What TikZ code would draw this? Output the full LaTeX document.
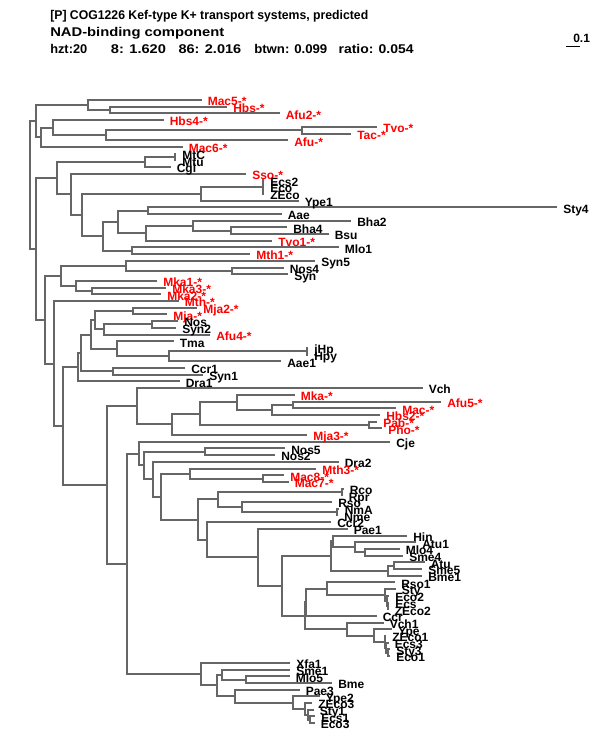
\documentclass[tikz,border=0pt]{standalone}
\usepackage{fontspec}
\setmainfont{Liberation Sans}
\usepackage{graphicx}
\usetikzlibrary{calc}
\definecolor{brc}{RGB}{102,102,102}
\definecolor{redc}{RGB}{255,0,0}
\pgfdeclarelayer{bg}
\pgfsetlayers{bg,main}
\newcommand{\Lf}[5]{%
 \coordinate (#1) at (#3,{100+6.7*(#2-1)});
 \node[lab,#5] (t#1) at ({#3+6},{100+6.7*(#2-1)+5.8}) {#4};}
\newcommand{\In}[4]{%
 \path let \p1=(#3), \p2=(#4) in coordinate (#1) at ({#2*0.75pt},{(\y1+\y2)/2});
 \begin{pgfonlayer}{bg}\draw[br] (#3) -| (#1) |- (#4);\end{pgfonlayer}}
\begin{document}
\begin{tikzpicture}[x=0.75pt,y=-0.75pt,
  br/.style={draw=brc,line width=1.5pt},
  lab/.style={font=\fontsize{9}{10}\selectfont\bfseries,anchor=base west,inner sep=0pt},
  redlab/.style={text=redc},
  blacklab/.style={text=black},
  hdr/.style={font=\fontsize{9.5}{11}\selectfont\bfseries,anchor=base west,inner sep=0pt}]
\begin{pgfonlayer}{bg}\fill[white] (0,0) rectangle (600,750);\end{pgfonlayer}
\useasboundingbox (0,0) rectangle (600,750);
% header
\node[hdr] (h1) at (50,19) {\resizebox{238.5pt}{\height}{[P] COG1226 Kef-type K+ transport systems, predicted}};
\node[hdr] (h2) at (50,36) {\resizebox{130.5pt}{\height}{NAD-binding component}};
\node[hdr] (h3a) at (50,53) {\resizebox{27.75pt}{\height}{hzt:20}};
\node[hdr] (h3b) at (110.7,53) {\resizebox{41.25pt}{\height}{8: 1.620}};
\node[hdr] (h3c) at (178.3,53) {\resizebox{47pt}{\height}{86: 2.016}};
\node[hdr] (h3d) at (254,53) {\resizebox{54.75pt}{\height}{btwn: 0.099}};
\node[hdr] (h3e) at (338.3,53) {\resizebox{56.25pt}{\height}{ratio: 0.054}};
% scale bar
\coordinate (sb1) at (566,46.5);
\coordinate (sb2) at (580,46.5);
\draw[line width=0.8pt] (sb1) -- (sb2);
\node[lab] (sbl) at (573,42) {0.1};
% leaves
\Lf{L1}{1}{201.5}{Mac5-*}{redlab}
\Lf{L2}{2}{227}{Hbs-*}{redlab}
\Lf{L3}{3}{279.5}{Afu2-*}{redlab}
\Lf{L4}{4}{163.5}{Hbs4-*}{redlab}
\Lf{L5}{5}{377}{Tvo-*}{redlab}
\Lf{L6}{6}{351}{Tac-*}{redlab}
\Lf{L7}{7}{288}{Afu-*}{redlab}
\Lf{L8}{8}{182.5}{Mac6-*}{redlab}
\Lf{L9}{9}{176}{MtC}{blacklab}
\Lf{L10}{10}{176}{Mtu}{blacklab}
\Lf{L11}{11}{170.5}{Cgl}{blacklab}
\Lf{L12}{12}{246}{Sso-*}{redlab}
\Lf{L13}{13}{264}{Ecs2}{blacklab}
\Lf{L14}{14}{264}{Eco}{blacklab}
\Lf{L15}{15}{264}{ZEco}{blacklab}
\Lf{L16}{16}{298.5}{Ype1}{blacklab}
\Lf{L17}{17}{557}{Sty4}{blacklab}
\Lf{L18}{18}{281.5}{Aae}{blacklab}
\Lf{L19}{19}{351}{Bha2}{blacklab}
\Lf{L20}{20}{287}{Bha4}{blacklab}
\Lf{L21}{21}{328.5}{Bsu}{blacklab}
\Lf{L22}{22}{272}{Tvo1-*}{redlab}
\Lf{L23}{23}{338.5}{Mlo1}{blacklab}
\Lf{L24}{24}{250}{Mth1-*}{redlab}
\Lf{L25}{25}{315}{Syn5}{blacklab}
\Lf{L26}{26}{283.5}{Nos4}{blacklab}
\Lf{L27}{27}{288}{Syn}{blacklab}
\Lf{L28}{28}{157}{Mka1-*}{redlab}
\Lf{L29}{29}{166}{Mka3-*}{redlab}
\Lf{L30}{30}{161}{Mka2-*}{redlab}
\Lf{L31}{31}{178.5}{Mth-*}{redlab}
\Lf{L33}{33}{167}{Mja-*}{redlab}
\Lf{L32}{32}{197}{Mja2-*}{redlab}
\Lf{L34}{34}{178}{Nos}{blacklab}
\Lf{L35}{35}{176}{Syn2}{blacklab}
\Lf{L36}{36}{210}{Afu4-*}{redlab}
\Lf{L37}{37}{173.5}{Tma}{blacklab}
\Lf{L38}{38}{308}{jHp}{blacklab}
\Lf{L39}{39}{308}{Hpy}{blacklab}
\Lf{L40}{40}{281}{Aae1}{blacklab}
\Lf{L41}{41}{185}{Ccr1}{blacklab}
\Lf{L42}{42}{203}{Syn1}{blacklab}
\Lf{L43}{43}{179.5}{Dra1}{blacklab}
\Lf{L44}{44}{422.5}{Vch}{blacklab}
\Lf{L45}{45}{294.5}{Mka-*}{redlab}
\Lf{L46}{46}{441}{Afu5-*}{redlab}
\Lf{L47}{47}{396}{Mac-*}{redlab}
\Lf{L48}{48}{380}{Hbs2-*}{redlab}
\Lf{L49}{49}{377}{Pab-*}{redlab}
\Lf{L50}{50}{382}{Pho-*}{redlab}
\Lf{L51}{51}{307}{Mja3-*}{redlab}
\Lf{L52}{52}{390}{Cje}{blacklab}
\Lf{L53}{53}{285}{Nos5}{blacklab}
\Lf{L54}{54}{275}{Nos2}{blacklab}
\Lf{L55}{55}{338.5}{Dra2}{blacklab}
\Lf{L56}{56}{316}{Mth3-*}{redlab}
\Lf{L57}{57}{284}{Mac8-*}{redlab}
\Lf{L58}{58}{288.5}{Mac7-*}{redlab}
\Lf{L59}{59}{343.5}{Rco}{blacklab}
\Lf{L60}{60}{342.5}{Rpr}{blacklab}
\Lf{L61}{61}{332}{Rso}{blacklab}
\Lf{L62}{62}{338.5}{NmA}{blacklab}
\Lf{L63}{63}{338}{Nme}{blacklab}
\Lf{L64}{64}{331}{Ccr2}{blacklab}
\Lf{L65}{65}{347.5}{Pae1}{blacklab}
\Lf{L66}{66}{407}{Hin}{blacklab}
\Lf{L67}{67}{416}{Atu1}{blacklab}
\Lf{L68}{68}{399.5}{Mlo4}{blacklab}
\Lf{L69}{69}{403}{Sme4}{blacklab}
\Lf{L70}{70}{424.5}{Atu}{blacklab}
\Lf{L71}{71}{422}{Sme5}{blacklab}
\Lf{L72}{72}{422}{Bme1}{blacklab}
\Lf{L73}{73}{395}{Rso1}{blacklab}
\Lf{L74}{74}{395.5}{Sty}{blacklab}
\Lf{L75}{75}{389}{Eco2}{blacklab}
\Lf{L76}{76}{389}{Ecs}{blacklab}
\Lf{L77}{77}{388.5}{ZEco2}{blacklab}
\Lf{L78}{78}{376.5}{Ccr}{blacklab}
\Lf{L79}{79}{383.5}{Vch1}{blacklab}
\Lf{L80}{80}{392}{Ype}{blacklab}
\Lf{L81}{81}{386}{ZEco1}{blacklab}
\Lf{L82}{82}{388.5}{Ecs3}{blacklab}
\Lf{L83}{83}{390}{Sty3}{blacklab}
\Lf{L84}{84}{390}{Eco1}{blacklab}
\Lf{L85}{85}{290}{Xfa1}{blacklab}
\Lf{L86}{86}{290}{Sme1}{blacklab}
\Lf{L87}{87}{289.5}{Mlo5}{blacklab}
\Lf{L88}{88}{332}{Bme}{blacklab}
\Lf{L89}{89}{299.5}{Pae3}{blacklab}
\Lf{L90}{90}{319.5}{Ype2}{blacklab}
\Lf{L91}{91}{312}{ZEco3}{blacklab}
\Lf{L92}{92}{313.5}{Sty1}{blacklab}
\Lf{L93}{93}{315}{Ecs1}{blacklab}
\Lf{L94}{94}{314.5}{Eco3}{blacklab}
% internal nodes
\In{A2}{110}{L2}{L3}
\In{A1}{88}{L1}{A2}
\In{N6}{301.7}{L5}{L6}
\In{N5}{106}{N6}{L7}
\In{N4}{53.3}{L4}{N5}
\In{N3}{40.7}{N4}{L8}
\In{N1}{36}{A1}{N3}
\In{N8a}{175}{L9}{L10}
\In{N8}{145}{N8a}{L11}
\In{N11a}{263}{L13}{L15}
\begin{pgfonlayer}{bg}\draw[br] (N11a) |- (L14);\end{pgfonlayer}
\In{N11}{201}{N11a}{L16}
\In{N14}{148.3}{L17}{L18}
\In{N16a}{230.7}{L20}{L21}
\In{N16}{193.3}{L19}{N16a}
\In{N15}{146}{N16}{L22}
\In{N13}{117.7}{N14}{N15}
\In{N17}{131.7}{L23}{L24}
\In{N12}{102.7}{N13}{N17}
\In{N10}{81.7}{N11}{N12}
\In{N9}{71}{L12}{N10}
\In{N7}{56.7}{N8}{N9}
\In{N23}{231.7}{L26}{L27}
\In{N22}{126}{L25}{N23}
\In{N25}{91.7}{L29}{L30}
\In{N24}{76}{L28}{N25}
\In{N21}{60.7}{N22}{N24}
\In{N36}{133.3}{L32}{L33}
\In{N36c}{151.7}{L34}{L35}
\In{N36b}{104.3}{N36c}{L36}
\In{N35}{95.3}{N36}{N36b}
\In{N38a}{306.7}{L38}{L39}
\In{N38}{169}{N38a}{L40}
\In{N37}{116.7}{L37}{N38}
\In{N34}{91}{N35}{N37}
\In{N39}{112.7}{L41}{L42}
\In{N33}{81}{N34}{N39}
\In{N32}{78.3}{N33}{L43}
\In{N46}{292.7}{L46}{L47}
\In{N45}{271.7}{N46}{L48}
\In{N44}{236.7}{L45}{N45}
\In{N47}{369.3}{L49}{L50}
\In{N43}{200}{N44}{N47}
\In{N42}{171.7}{N43}{L51}
\In{N41}{136.7}{L44}{N42}
\In{N53}{205}{L53}{L54}
\In{N56a}{263}{L57}{L58}
\In{N56}{190}{L56}{N56a}
\In{N58a}{341.7}{L59}{L60}
\In{N59a}{337.3}{L62}{L63}
\In{N59}{241.7}{L61}{N59a}
\In{N58}{218.3}{N58a}{N59}
\In{N67}{365}{L68}{L69}
\In{N66}{355}{L67}{N67}
\In{N65}{332.5}{L66}{N66}
\In{N69}{394}{L70}{L71}
\In{N68}{388.3}{N69}{L72}
\In{N64}{331}{N65}{N68}
\In{N73c}{388}{L76}{L77}
\In{N73b}{387}{L75}{N73c}
\In{N73}{385}{L74}{N73b}
\In{N72}{326.7}{L73}{N73}
\In{N71}{306}{N72}{L78}
\In{N78}{388}{L83}{L84}
\In{N77}{386}{L82}{N78}
\In{N76}{385}{L81}{N77}
\In{N75}{374.3}{L80}{N76}
\In{N74}{346.7}{L79}{N75}
\In{N70}{305}{N71}{N74}
\In{N63}{281.7}{N64}{N70}
\In{N62}{258.3}{L65}{N63}
\In{N61}{206.7}{L64}{N62}
\In{N57}{197.7}{N58}{N61}
\In{N55}{161}{N56}{N57}
\In{N54}{152.7}{L55}{N55}
\In{N52}{144.3}{N53}{N54}
\In{N51}{139}{L52}{N52}
\In{N69b}{310}{L93}{L94}
\In{N68b}{308}{L92}{N69b}
\In{N67b}{305}{L91}{N68b}
\In{N66b}{293.3}{L90}{N67b}
\In{N65b}{235}{L89}{N66b}
\In{N64b}{246}{L87}{L88}
\In{N63b}{221.7}{L86}{N64b}
\In{N62b}{216.7}{N63b}{N65b}
\In{N60}{201}{L85}{N62b}
\In{N50}{126.7}{N51}{N60}
\In{N40}{106.7}{N41}{N50}
\In{N31}{62.7}{N32}{N40}
\In{N30}{54.3}{L31}{N31}
\In{N20}{45}{N21}{N30}
\In{B}{36}{N7}{N20}
\In{R0}{30}{N1}{B}
\end{tikzpicture}
\end{document}
